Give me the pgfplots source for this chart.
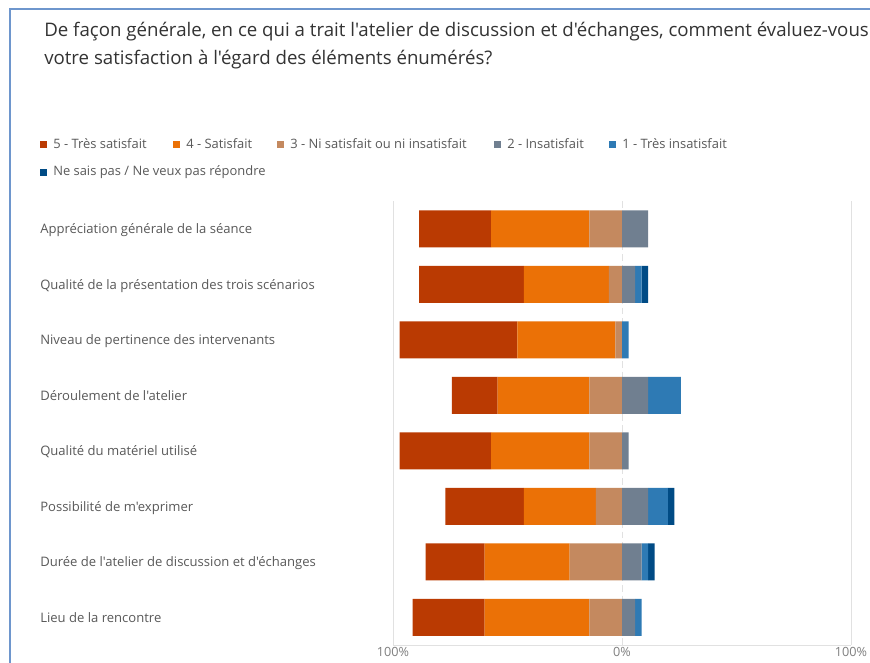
\documentclass[border=0pt]{standalone}
\usepackage{pgfplots}
\pgfplotsset{compat=1.18}
\usepackage{pgfplotstable}
\usepackage{fontspec}
\setmainfont{Open Sans}[Ligatures=TeXOff]
\definecolor{c5}{RGB}{186,58,2}
\definecolor{c4}{RGB}{235,113,6}
\definecolor{c3}{RGB}{196,137,95}
\definecolor{c2}{RGB}{112,127,144}
\definecolor{c1}{RGB}{46,122,180}
\definecolor{c0}{RGB}{0,75,133}
\definecolor{framec}{RGB}{110,150,205}
\definecolor{titlec}{RGB}{51,51,51}
\definecolor{labc}{RGB}{89,89,89}
\definecolor{tickc}{RGB}{128,128,128}
\definecolor{gridc}{RGB}{225,225,225}

% percentages of 35 respondents, rows top to bottom
\pgfplotstableread{
y v5 v4 v3 v2 v1 v0
0 31.43 42.86 14.29 11.43 0 0
1 45.71 37.14 5.71 5.71 2.86 2.86
2 51.43 42.86 2.86 0 2.86 0
3 20.00 40.00 14.29 11.43 14.29 0
4 40.00 42.86 14.29 2.86 0 0
5 34.29 31.43 11.43 11.43 8.57 2.86
6 25.71 37.14 22.86 8.57 2.86 2.86
7 31.43 45.71 14.29 5.71 2.86 0
}\data

\pgfplotsset{
  common/.style={
    scale only axis, width=343.5pt, height=333pt,
    at={(294.75pt,-150.75pt)}, anchor=north west,
    xmin=-100, xmax=100, ymin=-0.5, ymax=7.5, y dir=reverse,
    xbar stacked, bar width=27.75pt,
    legend image code/.code={\fill[##1] (0pt,-2.625pt) rectangle (5.25pt,2.625pt);},
  },
  sq/.style={fill=#1, draw=none},
}

\begin{document}
\begin{tikzpicture}
\path[use as bounding box] (0pt,0pt) rectangle (652.5pt,-497.25pt);
\fill[white] (0pt,0pt) rectangle (652.5pt,-497.25pt);
\draw[framec, line width=1.3pt] (7.5pt,-497.25pt) -- (7.5pt,-6.75pt) -- (660pt,-6.75pt);

\node[anchor=base west, inner sep=0pt, text=titlec, font=\fontsize{14}{16}\selectfont] at (33pt,-27.75pt)
  {De façon générale, en ce qui a trait l'atelier de discussion et d'échanges, comment évaluez-vous};
\node[anchor=base west, inner sep=0pt, text=titlec, font=\fontsize{14}{16}\selectfont] at (33pt,-48.75pt)
  {votre satisfaction à l'égard des éléments énumérés?};

\begin{axis}[common,
  axis x line*=bottom, axis y line*=left,
  x axis line style={draw=gridc}, y axis line style={draw=none},
  major tick length=0pt,
  xtick={-100,100}, xticklabels={100\%,100\%},
  extra x ticks={0}, extra x tick labels={0\%},
  extra x tick style={grid style={draw=gridc, dash pattern=on 5pt off 3pt}},
  xmajorgrids, grid style={draw=gridc},
  xticklabel style={anchor=base, inner sep=0pt, yshift=-8.25pt, text=tickc, font=\fontsize{9.5}{11}\selectfont},
  ytick={0,1,2,3,4,5,6,7},
  yticklabels={Appréciation générale de la séance,
    Qualité de la présentation des trois scénarios,
    Niveau de pertinence des intervenants,
    Déroulement de l'atelier,
    Qualité du matériel utilisé,
    Possibilité de m'exprimer,
    Durée de l'atelier de discussion et d'échanges,
    Lieu de la rencontre},
  yticklabel style={anchor=base west, inner sep=0pt, xshift=-264.75pt, yshift=-3.9pt, text=labc, font=\fontsize{9.8}{11}\selectfont},
  legend columns=5,
  legend style={draw=none, fill=none, inner sep=0pt, at={(-0.7707,1.1273)}, anchor=west,
    nodes={inner sep=0pt, text=labc, font=\fontsize{9.7}{11}\selectfont},
    /tikz/every odd column/.append style={column sep=4.5pt}},
]
\addlegendimage{sq=c5}\addlegendentry{\makebox[90pt][l]{5 - Très satisfait}}
\addlegendimage{sq=c4}\addlegendentry{\makebox[68.25pt][l]{4 - Satisfait}}
\addlegendimage{sq=c3}\addlegendentry{\makebox[153pt][l]{3 - Ni satisfait ou ni insatisfait}}
\addlegendimage{sq=c2}\addlegendentry{\makebox[76.5pt][l]{2 - Insatisfait}}
\addlegendimage{sq=c1}\addlegendentry{1 - Très insatisfait}
\addplot[forget plot, fill=c3, draw=none] table[x expr=-\thisrow{v3}, y=y] {\data};
\addplot[forget plot, fill=c4, draw=none] table[x expr=-\thisrow{v4}, y=y] {\data};
\addplot[forget plot, fill=c5, draw=none] table[x expr=-\thisrow{v5}, y=y] {\data};
\end{axis}

\begin{axis}[common, hide axis,
  legend style={draw=none, fill=none, inner sep=0pt, at={(-0.7707,1.0653)}, anchor=west,
    nodes={inner sep=0pt, text=labc, font=\fontsize{9.7}{11}\selectfont},
    /tikz/every odd column/.append style={column sep=4.5pt}},
]
\addlegendimage{sq=c0}\addlegendentry{Ne sais pas / Ne veux pas répondre}
\addplot[forget plot, fill=c2, draw=none] table[x=v2, y=y] {\data};
\addplot[forget plot, fill=c1, draw=none] table[x=v1, y=y] {\data};
\addplot[forget plot, fill=c0, draw=none] table[x=v0, y=y] {\data};
\end{axis}
\end{tikzpicture}
\end{document}
